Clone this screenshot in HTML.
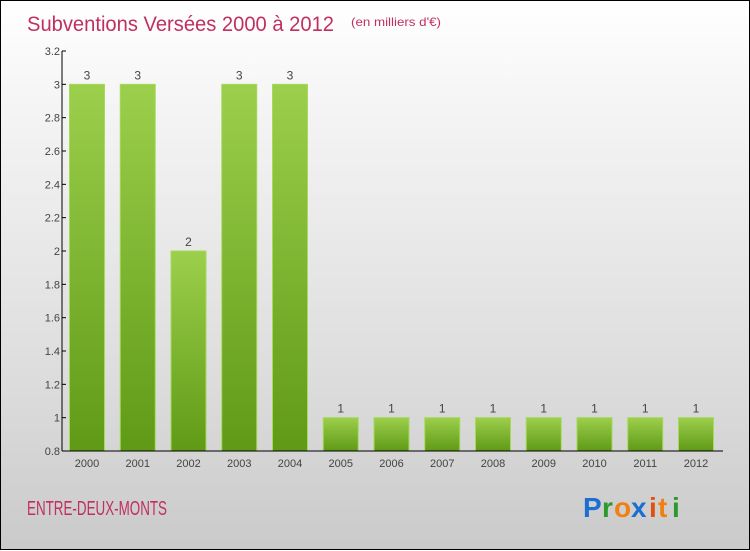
<!DOCTYPE html>
<html><head><meta charset="utf-8"><style>
body{margin:0;width:750px;height:550px;overflow:hidden}
#wrap{position:relative;width:748px;height:548px;border:1px solid #000;background:linear-gradient(#ffffff,#f4f4f4 20%,#dcdcdc 70%,#cacaca)}
svg{position:absolute;left:0;top:0}
text{font-family:"Liberation Sans",sans-serif}
</style></head><body>
<div id="wrap">
<svg id="c" width="750" height="550">
<defs>
<linearGradient id="g" x1="0" y1="0" x2="0" y2="1"><stop offset="0" stop-color="#9ccf4c"/><stop offset="1" stop-color="#5f9a16"/></linearGradient>
</defs>
<text x="26" y="30" font-size="21" fill="#c0305e" textLength="307" lengthAdjust="spacingAndGlyphs">Subventions Versées 2000 à 2012</text>
<text x="350" y="25" font-size="12" fill="#c0305e" textLength="90" lengthAdjust="spacingAndGlyphs">(en milliers d'€)</text>
<text x="26" y="514" font-size="20" fill="#c0305e" textLength="140" lengthAdjust="spacingAndGlyphs">ENTRE-DEUX-MONTS</text>
<g font-size="28" font-weight="bold">
<text x="582" y="516" fill="#1a6fd0">P</text><text x="601" y="516" fill="#2a9a2a">r</text><text x="613" y="516" fill="#f08010">o</text><text x="630" y="516" fill="#1a6fd0">x</text><text x="648" y="516" fill="#e05010">i</text><text x="657" y="516" fill="#f08010">t</text><text x="671" y="516" fill="#2a9a2a">i</text>
</g>
</svg>
</div>
<script>
const categories=["2000","2001","2002","2003","2004","2005","2006","2007","2008","2009","2010","2011","2012"];
const values=[3,3,2,3,3,1,1,1,1,1,1,1,1];
const yTicks=[0.8,1,1.2,1.4,1.6,1.8,2,2.2,2.4,2.6,2.8,3,3.2];
const svg=document.getElementById('c');
const NS='http://www.w3.org/2000/svg';
const yMin=0.8,yMax=3.2,yTop=50,yBot=450,axX=61;
const y=v=>yBot-(v-yMin)/(yMax-yMin)*(yBot-yTop);
const step=50.75,x0=86,bw=35;
const x=i=>x0+i*step;
function mk(t,a){const e=document.createElementNS(NS,t);for(const k in a)e.setAttribute(k,a[k]);svg.appendChild(e);return e;}
values.forEach((v,i)=>{
 const r=mk('rect',{x:x(i)-bw/2,y:y(v),width:bw,height:yBot-y(v),fill:'url(#g)',stroke:'#a6d95c','stroke-width':1});
 
 
 const t=mk('text',{x:x(i),y:y(v)-5,'text-anchor':'middle','font-size':12,fill:'#444'});
 t.textContent=v;
 
 
 const c=mk('text',{x:x(i),y:466,'text-anchor':'middle','font-size':11,fill:'#444'});
 c.textContent=categories[i];
 
 
});
yTicks.forEach(v=>{
 const l=mk('line',{x1:axX,x2:axX+4,y1:y(v),y2:y(v),stroke:'#000'});
 
 
 const t=mk('text',{x:axX-2,y:y(v)+4,'text-anchor':'end','font-size':11,fill:'#444'});
 t.textContent=v;
 
 
});
const ya=mk('line',{x1:axX,x2:axX,y1:yTop,y2:yBot,stroke:'#000'});


const xa=mk('line',{x1:axX,x2:722,y1:yBot,y2:yBot,stroke:'#000'});


</script>
</body></html>
